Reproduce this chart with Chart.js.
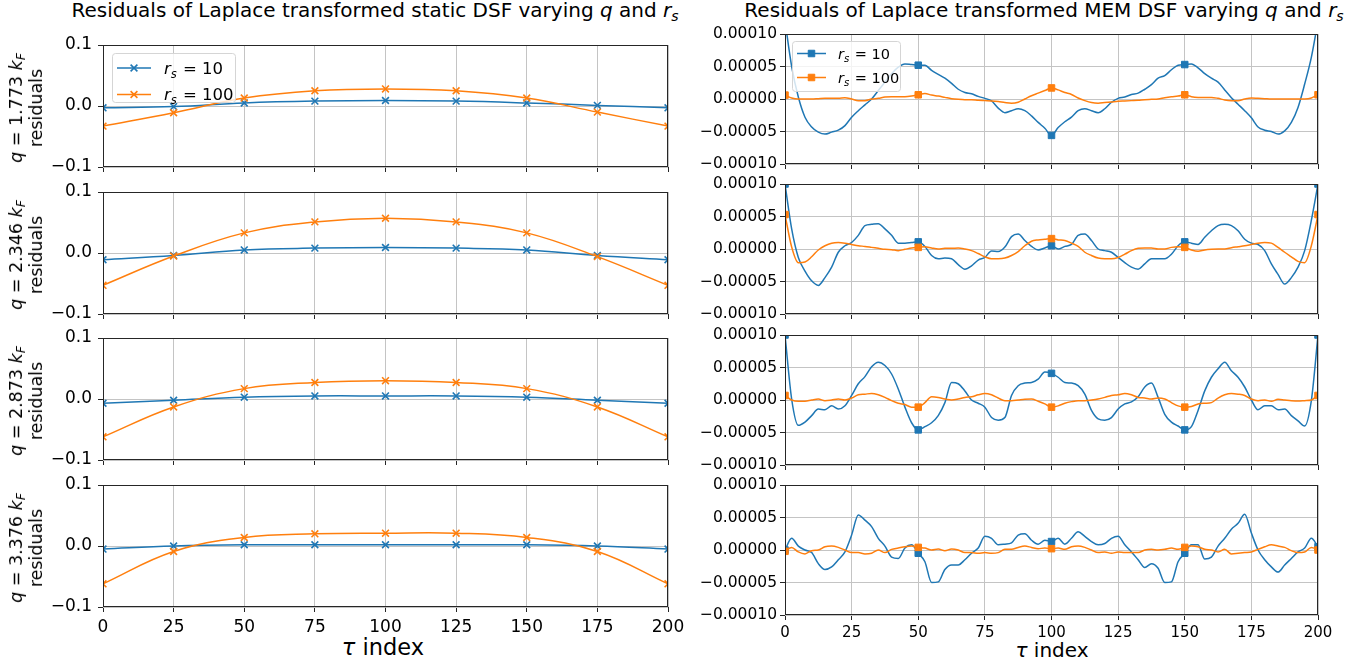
<!DOCTYPE html>
<html>
<head>
<meta charset="utf-8">
<title>Laplace transformed DSF residuals</title>
<script src="https://cdn.jsdelivr.net/npm/chart.js@4.4.1/dist/chart.umd.min.js"></script>
<style>
  html, body { margin: 0; padding: 0; background: #fff; }
  #fig { position: relative; width: 1372px; height: 666px; overflow: hidden; font-family: "DejaVu Sans", sans-serif; color: #000; }
  #fig canvas { position: absolute; }
  .lbl { position: absolute; white-space: nowrap; line-height: 1; transform: translateX(-50%); }
  .ylab { position: absolute; white-space: nowrap; text-align: center; transform: translate(-50%, -50%) rotate(-90deg); font-size: 17.5px; line-height: 20px; }
  sub { font-size: 70%; vertical-align: -0.25em; line-height: 0; }
</style>
</head>
<body>
<div id="fig">
  <div class="lbl" style="left:375px;top:0px;font-size:20px">Residuals of Laplace transformed static DSF varying <i>q</i> and <i>r<sub>s</sub></i></div>
  <div class="lbl" style="left:1044px;top:0px;font-size:20px">Residuals of Laplace transformed MEM DSF varying <i>q</i> and <i>r<sub>s</sub></i></div>
  <div class="lbl" style="left:383px;top:636px;font-size:22.5px"><i>τ</i> index</div>
  <div class="lbl" style="left:1052px;top:640px;font-size:20px"><i>τ</i> index</div>
</div>
<script>
// ---- data ----------------------------------------------------------
const qLabels = ['1.773', '2.346', '2.873', '3.376'];
const rsValues = [10, 100];

// static DSF residuals at the marked tau indices
const staticTau = [0, 25, 50, 75, 100, 125, 150, 175, 200];
const staticQ1Rs10  = [-0.003, -0.001, 0.005, 0.008, 0.009, 0.008, 0.005, 0.001, -0.003];
const staticQ1Rs100 = [-0.033, -0.011, 0.013, 0.025, 0.028, 0.025, 0.013, -0.010, -0.033];
const staticQ2Rs10  = [-0.011, -0.004, 0.005, 0.008, 0.009, 0.008, 0.005, -0.004, -0.011];
const staticQ2Rs100 = [-0.053, -0.005, 0.033, 0.051, 0.057, 0.051, 0.033, -0.006, -0.053];
const staticQ3Rs10  = [-0.007, -0.002, 0.003, 0.005, 0.005, 0.005, 0.003, -0.002, -0.007];
const staticQ3Rs100 = [-0.062, -0.013, 0.017, 0.027, 0.030, 0.027, 0.017, -0.013, -0.062];
const staticQ4Rs10  = [-0.005, 0.000, 0.002, 0.002, 0.002, 0.002, 0.002, 0.000, -0.005];
const staticQ4Rs100 = [-0.062, -0.009, 0.014, 0.020, 0.021, 0.021, 0.014, -0.009, -0.062];

// MEM DSF residuals, in units of 1e-5
const memTau = [
  0, 2.5, 5, 7.5, 10, 12.5, 15, 17.5, 20, 22.5,
  25, 27.5, 30, 32.5, 35, 37.5, 40, 42.5, 45, 47.5,
  50, 52.5, 55, 57.5, 60, 62.5, 65, 67.5, 70, 72.5,
  75, 77.5, 80, 82.5, 85, 87.5, 90, 92.5, 95, 97.5,
  100, 102.5, 105, 107.5, 110, 112.5, 115, 117.5, 120, 122.5,
  125, 127.5, 130, 132.5, 135, 137.5, 140, 142.5, 145, 147.5,
  150, 152.5, 155, 157.5, 160, 162.5, 165, 167.5, 170, 172.5,
  175, 177.5, 180, 182.5, 185, 187.5, 190, 192.5, 195, 197.5,
  200
];
const memMarkTau = [0, 50, 100, 150, 200];

const memQ1Rs10 = [
  12, 5.0, 0.3, -2.8, -4.3, -5.1, -5.4, -5.1, -4.8, -4.1,
  -2.8, -1.8, -0.9, 0, 1.3, 2.6, 3.9, 4.9, 5.4, 5.3,
  5.2, 5.2, 4.4, 3.8, 3.2, 2.4, 1.5, 1.0, 0.8, 0.4,
  0.1, -0.3, -1.4, -2.1, -1.8, -1.5, -1.8, -2.6, -3.6, -4.5,
  -5.6, -4.4, -3.5, -2.8, -1.8, -1.5, -1.8, -2.1, -1.5, -0.5,
  0.1, 0.3, 0.7, 0.9, 1.5, 2.2, 3.2, 3.6, 4.5, 5.2,
  5.3, 5.4, 4.8, 3.9, 3.2, 2.6, 1.4, 0.2, -0.8, -1.8,
  -2.9, -4.3, -4.8, -5.0, -5.4, -4.9, -3.6, -1.3, 2.3, 6.4,
  12
];
const memQ1Rs100 = [
  0.6, 0.15, 0, 0, 0, 0.05, 0.1, 0.1, 0.1, 0.2,
  0, -0.25, -0.25, 0, 0.1, 0.3, 0.35, 0.35, 0.35, 0.45,
  0.65, 0.85, 0.6, 0.45, 0.25, 0.05, -0.05, -0.1, -0.1, -0.2,
  -0.25, -0.3, -0.4, -0.55, -0.65, -0.5, 0, 0.5, 0.9, 1.3,
  1.7, 1.4, 1.0, 0.7, 0.15, -0.25, -0.55, -0.65, -0.55, -0.45,
  -0.35, -0.3, -0.25, -0.2, -0.1, -0.05, 0, 0.2, 0.35, 0.45,
  0.65, 0.35, 0.25, 0.25, 0.25, 0.1, -0.15, -0.25, -0.25, 0,
  0.15, 0.1, 0.05, 0, 0, 0, 0, 0, 0, 0.15,
  0.65
];
const memQ2Rs10 = [
  10, 3.1, -1.3, -3.4, -4.9, -5.6, -4.4, -2.8, -0.5, 0.5,
  1.0, 2.1, 3.6, 3.8, 3.9, 3.1, 2.1, 0.9, 0.9, 1.0,
  1.1, 0.4, -1.0, -1.5, -1.4, -1.5, -2.4, -3.1, -2.6, -1.7,
  -1.3, -0.3, -0.4, 0.3, 1.9, 2.3, 1.3, 0.4, -0.15, 0.15,
  0.5, 0, 0.4, 0.7, 2.1, 2.3, 1.3, 0, -0.25, -0.5,
  -1.3, -2.1, -2.8, -3.1, -2.3, -1.5, -1.5, -1.5, -0.8, 0.5,
  1.1, 0.9, 0.7, 1.8, 2.8, 3.6, 3.8, 3.6, 2.8, 1.5,
  0.9, 0.7, -0.25, -2.3, -3.9, -5.4, -4.4, -2.8, -0.25, 4.4,
  10
];
const memQ2Rs100 = [
  5.3, 0.3, -2.1, -2.0, -1.2, -0.15, 0.5, 0.9, 1.0, 0.9,
  0.7, 0.5, 0.4, 0.25, 0.1, -0.05, -0.1, -0.25, -0.05, 0.15,
  0.25, 0.35, 0.15, 0, 0.1, 0.1, 0.15, 0, -0.25, -0.7,
  -1.2, -1.5, -1.5, -1.4, -1.0, -0.4, 0.5, 1.2, 1.4, 1.5,
  1.6, 1.4, 1.3, 0.9, 0.4, -0.5, -1.0, -1.4, -1.5, -1.5,
  -1.3, -0.8, -0.25, 0.1, 0.15, 0.15, 0, 0, 0.25, 0.35,
  0.25, -0.15, -0.35, -0.15, -0.05, 0, 0, 0.2, 0.35, 0.5,
  0.7, 0.9, 1.0, 0.9, 0.25, -0.5, -1.2, -1.9, -2.1, 0.5,
  5.3
];
const memQ3Rs10 = [
  10, 0.15, -3.9, -3.4, -2.4, -1.4, -1.5, -0.9, -1.4, -0.9,
  0.7, 2.5, 3.6, 5.1, 5.8, 5.3, 4.0, 1.7, -1.1, -3.5,
  -4.6, -4.1, -3.5, -2.4, -0.4, 2.7, 2.5, 1.4, 0, -0.5,
  -1.1, -2.7, -3.1, -2.7, 0.7, 2.2, 2.6, 2.7, 3.2, 4.3,
  4.1, 3.5, 2.7, 2.6, 2.2, 0.9, -1.6, -2.9, -3.1, -2.7,
  -1.4, -0.6, -0.3, 0.5, 2.0, 2.6, 0.4, -2.2, -3.4, -4.0,
  -4.6, -4.1, -1.6, 1.4, 3.5, 4.8, 5.8, 4.5, 3.5, 2.0,
  0, -1.5, -0.9, -0.9, -1.5, -1.4, -2.4, -3.2, -4.0, -0.1,
  10
];
const memQ3Rs100 = [
  0.7, 0, -0.2, -0.2, 0, 0.15, -0.1, 0, 0.15, 0,
  0.3, 0.8, 0.9, 1.0, 0.8, 0.4, -0.1, -0.5, -0.7, -1.1,
  -1.1, -0.4, 0.5, 0.4, 0.15, 0, 0.15, 0.4, 0.5, 0.8,
  1.0, 0.8, 0.3, -0.1, -0.1, 0, 0.1, 0.15, -0.2, -0.6,
  -1.1, -0.9, -0.5, -0.25, -0.1, -0.1, 0, 0.15, 0.4, 0.7,
  0.8, 1.0, 0.8, 0.4, 0.3, 0.15, 0.3, 0.15, -0.4, -0.9,
  -1.1, -1.0, -0.6, -0.5, -0.4, 0.3, 0.8, 1.0, 0.9, 0.7,
  0.15, -0.1, 0, -0.2, 0.1, 0, -0.1, -0.15, -0.1, 0,
  0.7
];
const memQ4Rs10 = [
  0, 1.8, 0.6, 0, -0.4, -2.1, -3.0, -2.6, -1.5, -0.3,
  2.3, 5.4, 4.6, 3.6, 1.8, 0.6, -1.1, -1.3, 0.3, 0.8,
  -0.5, -1.8, -5.0, -4.9, -3.0, -2.3, -2.3, -1.5, -0.5, 0.3,
  2.1, 1.8, 0.8, 0.9, 1.1, 2.3, 2.5, 1.5, 0.9, 1.5,
  1.3, 1.8, 0.9, 1.8, 2.8, 2.1, 1.3, 0.8, 1.0, 1.8,
  2.1, 0.8, -0.3, -1.5, -2.7, -2.1, -2.8, -5.0, -4.9, -1.8,
  -0.5, 0.8, 0.8, -1.4, -1.1, 0.6, 1.8, 3.2, 4.1, 5.5,
  2.6, 0, -1.5, -2.6, -3.4, -2.3, -1.3, -0.3, 0.3, 1.8,
  0.5
];
const memQ4Rs100 = [
  -0.2, 0.4, -0.3, -0.6, -0.1, 0, 0.5, 0.6, 0.4, 0,
  -0.4, -0.4, -0.6, -0.5, 0, -0.4, 0.1, 0.3, 0.5, 0.6,
  0.4, 0.3, 0, 0.15, -0.1, 0.15, 0, -0.4, -0.4, -0.5,
  -0.4, -0.5, -0.4, 0.1, 0.1, 0.4, 0.6, 0.4, 0.2, 0.3,
  0.2, 0.3, 0.1, 0.5, 0.6, 0.4, 0, -0.4, -0.3, -0.5,
  -0.3, -0.4, -0.4, -0.4, 0, 0.1, 0, 0.1, 0.3, 0.1,
  0.4, 0.6, 0.5, 0.1, 0, -0.3, 0.1, -0.6, -0.5, -0.4,
  -0.3, 0.1, 0.5, 0.8, 0.6, 0.4, -0.1, -0.4, -0.3, 0.4,
  0
];

const staticSeries = [
  [staticQ1Rs10, staticQ1Rs100],
  [staticQ2Rs10, staticQ2Rs100],
  [staticQ3Rs10, staticQ3Rs100],
  [staticQ4Rs10, staticQ4Rs100]
];
const memSeries = [
  [memQ1Rs10, memQ1Rs100],
  [memQ2Rs10, memQ2Rs100],
  [memQ3Rs10, memQ3Rs100],
  [memQ4Rs10, memQ4Rs100]
];

// ---- look ----------------------------------------------------------
const colors = ['#1f77b4', '#ff7f0e'];
const FONT = '"DejaVu Sans"';
Chart.defaults.font.family = FONT;

const leftTops = [45, 192, 338, 485];
const rightTops = [34, 184, 335, 485];

const minus = s => s.replace('-', '\u2212');

// legend box in the top-left corner of the first panel of each column
function drawLegend(chart, lg) {
  const { ctx, chartArea: a } = chart;
  const x = a.left + lg.dx, y = a.top + lg.dy;
  ctx.save();
  ctx.beginPath();
  ctx.roundRect(x + 0.5, y + 0.5, lg.w, lg.h, 3);
  ctx.fillStyle = 'rgba(255,255,255,0.8)';
  ctx.fill();
  ctx.strokeStyle = '#d5d5d5';
  ctx.lineWidth = 1;
  ctx.stroke();
  chart.data.datasets.forEach((ds, k) => {
    const cy = y + lg.row0 + k * lg.rowGap;
    ctx.strokeStyle = ds.borderColor;
    ctx.fillStyle = ds.borderColor;
    ctx.lineWidth = 1.5;
    ctx.beginPath();
    ctx.moveTo(x + lg.line0, cy);
    ctx.lineTo(x + lg.line1, cy);
    ctx.stroke();
    ctx.lineWidth = ds.pointBorderWidth;
    Chart.helpers.drawPoint(ctx, {
      pointStyle: ds.pointStyle, rotation: 0, radius: lg.markR, borderWidth: ds.pointBorderWidth
    }, x + (lg.line0 + lg.line1) / 2, cy);

    // r_s = value
    let tx = x + lg.textX;
    const base = cy + lg.font * 0.36;
    ctx.fillStyle = '#000';
    ctx.textBaseline = 'alphabetic';
    ctx.textAlign = 'left';
    ctx.font = `italic ${lg.font}px ${FONT}`;
    ctx.fillText('r', tx, base);
    tx += ctx.measureText('r').width;
    ctx.font = `italic ${lg.font * 0.7}px ${FONT}`;
    ctx.fillText('s', tx, base + lg.font * 0.22);
    tx += ctx.measureText('s').width;
    ctx.font = `${lg.font}px ${FONT}`;
    ctx.fillText(' = ' + rsValues[k], tx + 1, base);
  });
  ctx.restore();
}

const panelFrame = {
  id: 'panelFrame',
  afterDatasetsDraw(chart, args, opts) {
    const { ctx, chartArea: a } = chart;
    ctx.save();
    ctx.strokeStyle = '#262626';
    ctx.lineWidth = 1;
    ctx.strokeRect(a.left + 0.5, a.top + 0.5, a.width - 1, a.height - 1);
    ctx.restore();
    if (opts && opts.legend) drawLegend(chart, opts.legend);
  }
};
Chart.register(panelFrame);

function addPanel(p) {
  const W = p.yw + p.w + p.pr, H = p.pt + p.h + p.xh;
  const cv = document.createElement('canvas');
  cv.width = W;
  cv.height = H;
  cv.style.left = (p.x - p.yw) + 'px';
  cv.style.top = (p.y - p.pt) + 'px';
  cv.style.width = W + 'px';
  cv.style.height = H + 'px';
  document.getElementById('fig').appendChild(cv);

  const grid = { color: '#c4c4c4', lineWidth: 1, tickLength: 5, tickColor: '#262626', tickWidth: 1 };
  return new Chart(cv, {
    type: 'line',
    data: { datasets: p.datasets },
    options: {
      responsive: false,
      animation: false,
      events: [],
      layout: { padding: { top: p.pt, right: p.pr, left: 0, bottom: 0 } },
      plugins: {
        legend: { display: false },
        tooltip: { enabled: false },
        panelFrame: { legend: p.legend || null }
      },
      scales: {
        x: {
          type: 'linear', min: 0, max: 200,
          grid: grid,
          border: { display: false },
          ticks: {
            stepSize: 25, autoSkip: false, maxRotation: 0, padding: p.xpad,
            color: '#000', font: { size: p.xfont },
            callback: v => p.showX ? String(v) : ''
          },
          afterFit: s => { s.height = p.xh; s.paddingLeft = 0; s.paddingRight = 0; }
        },
        y: {
          min: p.ymin, max: p.ymax,
          grid: grid,
          border: { display: false },
          ticks: {
            stepSize: p.ystep, padding: p.ypad,
            color: '#000', font: { size: p.yfont },
            callback: p.yfmt
          },
          afterFit: s => { s.width = p.yw; s.paddingTop = 0; s.paddingBottom = 0; }
        }
      }
    }
  });
}

// ---- left column: static DSF --------------------------------------
staticSeries.forEach((pair, i) => {
  const last = i === staticSeries.length - 1;
  addPanel({
    x: 103, y: leftTops[i], w: 565, h: 122,
    yw: 60, pt: 12, pr: 26, xh: last ? 36 : 10,
    showX: last, xfont: 17, xpad: 5,
    ymin: -0.1, ymax: 0.1, ystep: 0.1, yfont: 17, ypad: 6,
    yfmt: v => Math.abs(v) < 1e-9 ? '0.0' : minus(v.toFixed(1)),
    legend: i === 0 ? { dx: 9, dy: 8, w: 123, h: 49, row0: 15, rowGap: 26.5, line0: 5, line1: 39, markR: 4.8, textX: 52, font: 16.5 } : null,
    datasets: pair.map((vals, k) => ({
      data: staticTau.map((t, j) => ({ x: t, y: vals[j] })),
      borderColor: colors[k],
      backgroundColor: colors[k],
      borderWidth: 1.5,
      tension: 0.4,
      pointStyle: 'crossRot',
      pointRadius: 4.8,
      pointBorderWidth: 1.6,
      pointBorderColor: colors[k],
      clip: 0,
      order: k === 0 ? 1 : 0
    }))
  });

  // two-line axis label: q value, then "residuals"
  const yl = document.createElement('div');
  yl.className = 'ylab';
  yl.style.left = '26px';
  yl.style.top = (leftTops[i] + 61 + 2) + 'px';
  yl.innerHTML = `<i>q</i> = ${qLabels[i]} <i>k<sub>F</sub></i><br>residuals`;
  document.getElementById('fig').appendChild(yl);
});

// ---- right column: MEM DSF ----------------------------------------
const markRadius = memTau.map(t => memMarkTau.includes(t) ? 4.6 : 0);
memSeries.forEach((pair, i) => {
  const last = i === memSeries.length - 1;
  addPanel({
    x: 785, y: rightTops[i], w: 533, h: 130,
    yw: 92, pt: 12, pr: 26, xh: last ? 34 : 10,
    showX: last, xfont: 15, xpad: 4,
    ymin: -10, ymax: 10, ystep: 5, yfont: 15.5, ypad: 3,
    yfmt: v => minus((v * 1e-5).toFixed(5)),
    legend: i === 0 ? { dx: 7, dy: 7, w: 108, h: 50, row0: 12.5, rowGap: 24, line0: 5, line1: 34, markR: 4.6, textX: 46, font: 14.5 } : null,
    datasets: pair.map((vals, k) => ({
      data: memTau.map((t, j) => ({ x: t, y: vals[j] })),
      borderColor: colors[k],
      backgroundColor: colors[k],
      borderWidth: 1.5,
      cubicInterpolationMode: 'monotone',
      pointStyle: 'rect',
      pointRadius: markRadius,
      pointBorderWidth: 1,
      pointBorderColor: colors[k],
      clip: 0,
      order: k === 0 ? 1 : 0
    }))
  });
});
</script>
</body>
</html>
